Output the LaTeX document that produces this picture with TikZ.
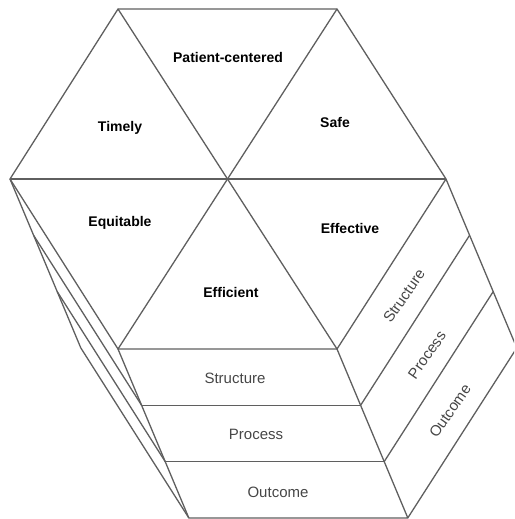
\documentclass[tikz,border=0pt]{standalone}
\usepackage{fontspec}
\setmainfont{Liberation Sans}
\usetikzlibrary{calc}
\definecolor{linec}{RGB}{95,95,95}
\definecolor{labc}{RGB}{70,70,70}
\begin{document}
\begin{tikzpicture}[x=1pt,y=-1pt,line join=round,
  edge/.style={draw=linec,line width=1.3pt},
  toplbl/.style={font=\fontsize{14}{16}\selectfont\bfseries,text=black,inner sep=0pt},
  laylbl/.style={font=\fontsize{15}{17}\selectfont,text=labc,inner sep=0pt}]
\useasboundingbox (0,0) rectangle (514,519);
\clip (0,0) rectangle (514,519);
% hexagon corners
\coordinate (TL) at (118,9);
\coordinate (TR) at (337,9);
\coordinate (R) at (446,179);
\coordinate (BR) at (337,349);
\coordinate (BL) at (118,349);
\coordinate (L) at (10,179);
\coordinate (C) at (228,179);
\coordinate (e) at (23.6,56.3);
% extruded layers
\foreach \k in {1,2,3}{
  \coordinate (L\k) at ($(L)+\k*(e)$);
  \coordinate (BL\k) at ($(BL)+\k*(e)$);
  \coordinate (BR\k) at ($(BR)+\k*(e)$);
  \coordinate (R\k) at ($(R)+\k*(e)$);
}
% top face
\draw[edge] (TL) -- (TR) -- (R) -- (BR) -- (BL) -- (L) -- cycle;
\draw[edge] (L) -- (R);
\draw[edge] (TL) -- (BR);
\draw[edge] (TR) -- (BL);
% left face
\draw[edge] (L) -- (L3) -- (BL3);
\draw[edge] (L1) -- (BL1);
\draw[edge] (L2) -- (BL2);
% front face
\draw[edge] (BL) -- (BL3) -- (BR3) -- (BR);
\draw[edge] (BL1) -- (BR1);
\draw[edge] (BL2) -- (BR2);
% right face
\draw[edge] (R) -- (R3) -- (BR3);
\draw[edge] (BR1) -- (R1);
\draw[edge] (BR2) -- (R2);
% top labels
\node[toplbl] (pc) at (228,57) {Patient-centered};
\node[toplbl] (ti) at (120,128) {Timely};
\node[toplbl] (sa) at (335,122) {Safe};
\node[toplbl] (eq) at (120,223) {Equitable};
\node[toplbl] (ef) at (350,228) {Effective};
\node[toplbl] (ec) at (231,292) {Efficient};
% front layer labels
\node[laylbl] (fs) at (235,378) {Structure};
\node[laylbl] (fp) at (256,434) {Process};
\node[laylbl] (fo) at (278,492) {Outcome};
% side layer labels
\node[laylbl,rotate=55] (ss) at (404,296) {Structure};
\node[laylbl,rotate=55] (sp) at (427,355) {Process};
\node[laylbl,rotate=55] (so) at (450,411) {Outcome};
\end{tikzpicture}
\end{document}
